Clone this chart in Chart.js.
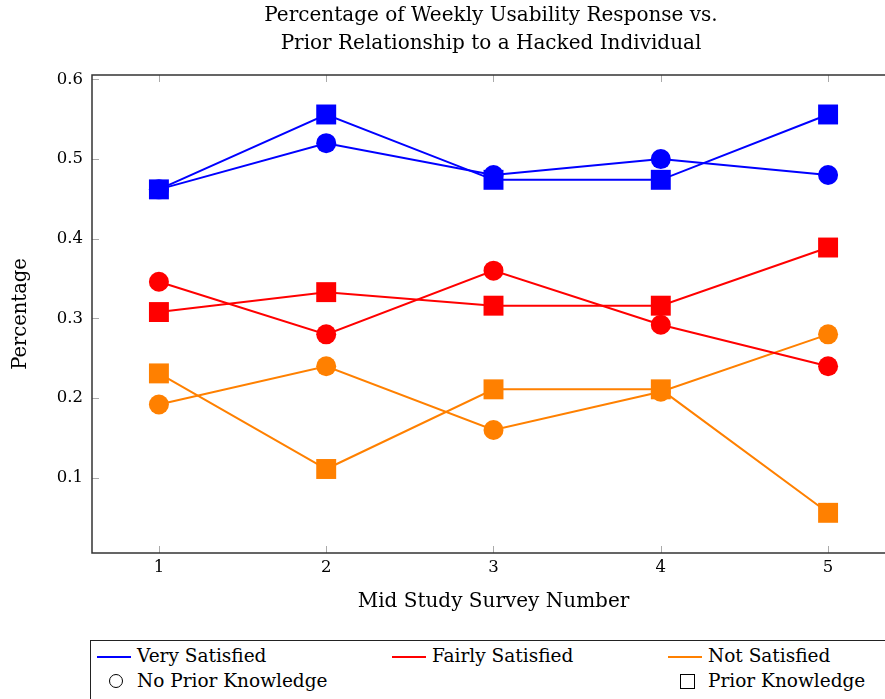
<!DOCTYPE html>
<html>
<head>
<meta charset="utf-8">
<script src="https://cdn.jsdelivr.net/npm/chart.js@4"></script>
<style>
  html, body { margin: 0; padding: 0; background: #fff; overflow: hidden; }
  #wrap { position: relative; width: 910px; height: 699px; }
  #chart { position: absolute; left: 0; top: 0; }
  #legend { position: absolute; left: 90px; top: 640px; width: 820px; height: 70px;
            border: 1px solid #222; box-sizing: border-box; font-family: "DejaVu Serif", serif; font-size: 18.5px; }
  .item { position: absolute; white-space: nowrap; line-height: 20px; }
  .line { position: absolute; width: 34px; height: 2px; }
  .circ { position: absolute; width: 12px; height: 12px; border: 1px solid #000; border-radius: 50%; }
  .sq { position: absolute; width: 13px; height: 13px; border: 1px solid #000; }
</style>
</head>
<body>
<div id="wrap">
  <canvas id="chart" width="910" height="640"></canvas>
  <div id="legend">
    <div class="line" style="left:6px;top:15px;background:#0000ff"></div>
    <div class="item" style="left:46px;top:5px">Very Satisfied</div>
    <div class="line" style="left:301px;top:15px;background:#ff0000"></div>
    <div class="item" style="left:341px;top:5px">Fairly Satisfied</div>
    <div class="line" style="left:577px;top:15px;background:#ff8000"></div>
    <div class="item" style="left:617px;top:5px">Not Satisfied</div>
    <div class="circ" style="left:18px;top:33px"></div>
    <div class="item" style="left:46px;top:30px">No Prior Knowledge</div>
    <div class="sq" style="left:589px;top:33px"></div>
    <div class="item" style="left:617px;top:30px">Prior Knowledge</div>
  </div>
</div>
<script>
const surveys = [1, 2, 3, 4, 5];
const yTicks = [0.1, 0.2, 0.3, 0.4, 0.5, 0.6];

const veryNoPrior   = [0.462, 0.520, 0.480, 0.500, 0.480];
const veryPrior     = [0.462, 0.556, 0.474, 0.474, 0.556];
const fairlyNoPrior = [0.346, 0.280, 0.360, 0.292, 0.240];
const fairlyPrior   = [0.308, 0.333, 0.316, 0.316, 0.389];
const notNoPrior    = [0.192, 0.240, 0.160, 0.208, 0.280];
const notPrior      = [0.231, 0.111, 0.211, 0.211, 0.056];

const FONT = '"DejaVu Serif", serif';

function pts(vals) {
  return vals.map(function (v, i) { return { x: surveys[i], y: v }; });
}

function series(label, vals, color, shape) {
  return {
    label: label,
    data: pts(vals),
    borderColor: color,
    backgroundColor: color,
    pointBackgroundColor: color,
    pointBorderColor: color,
    borderWidth: 2,
    pointStyle: shape,
    pointRadius: shape === 'rect' ? 14.1 : 10,
    pointBorderWidth: 0,
    tension: 0,
    fill: false
  };
}

// box, inner ticks and title (pgfplots look)
const decor = {
  id: 'decor',
  afterDraw: function (chart) {
    const ctx = chart.ctx;
    const a = chart.chartArea;
    const xs = chart.scales.x, ys = chart.scales.y;
    ctx.save();
    ctx.strokeStyle = '#aaa';
    ctx.lineWidth = 1;
    ctx.beginPath();
    surveys.forEach(function (s) {
      const px = Math.round(xs.getPixelForValue(s)) + 0.5;
      ctx.moveTo(px, a.bottom); ctx.lineTo(px, a.bottom - 7);
      ctx.moveTo(px, a.top); ctx.lineTo(px, a.top + 7);
    });
    yTicks.forEach(function (t) {
      const py = Math.round(ys.getPixelForValue(t)) + 0.5;
      ctx.moveTo(a.left, py); ctx.lineTo(a.left + 7, py);
      ctx.moveTo(a.right, py); ctx.lineTo(a.right - 7, py);
    });
    ctx.stroke();
    ctx.strokeStyle = '#333';
    ctx.lineWidth = 1.5;
    ctx.strokeRect(a.left, a.top, a.right - a.left, a.bottom - a.top);
    ctx.fillStyle = '#000';
    ctx.font = '20px ' + FONT;
    ctx.textAlign = 'center';
    ctx.textBaseline = 'middle';
    ctx.fillText('Percentage of Weekly Usability Response vs.', 491, 16);
    ctx.fillText('Prior Relationship to a Hacked Individual', 491, 44);
    ctx.restore();
  }
};

new Chart(document.getElementById('chart').getContext('2d'), {
  type: 'line',
  data: {
    datasets: [
      series('Very Satisfied', veryPrior, '#0000ff', 'rect'),
      series('Very Satisfied', veryNoPrior, '#0000ff', 'circle'),
      series('Fairly Satisfied', fairlyPrior, '#ff0000', 'rect'),
      series('Fairly Satisfied', fairlyNoPrior, '#ff0000', 'circle'),
      series('Not Satisfied', notPrior, '#ff8000', 'rect'),
      series('Not Satisfied', notNoPrior, '#ff8000', 'circle')
    ]
  },
  options: {
    responsive: false,
    animation: false,
    layout: { padding: { top: 75, right: 15, left: 0, bottom: 0 } },
    plugins: { legend: { display: false }, tooltip: { enabled: false } },
    scales: {
      x: {
        type: 'linear',
        min: 0.6,
        max: 5.4,
        afterBuildTicks: function (s) { s.ticks = surveys.map(function (v) { return { value: v }; }); },
        afterFit: function (s) { s.height = 87; },
        grid: { display: false, drawTicks: false },
        border: { display: false },
        ticks: { color: '#000', font: { family: FONT, size: 16.5 }, padding: 5 },
        title: { display: true, text: 'Mid Study Survey Number', color: '#000',
                 font: { family: FONT, size: 20 }, padding: { top: 0, bottom: 26 } }
      },
      y: {
        min: 0.00556,
        max: 0.60556,
        afterBuildTicks: function (s) { s.ticks = yTicks.map(function (v) { return { value: v }; }); },
        afterFit: function (s) { s.width = 92; },
        grid: { display: false, drawTicks: false },
        border: { display: false },
        ticks: { color: '#000', font: { family: FONT, size: 16.5 }, padding: 9,
                 callback: function (v) { return v.toFixed(1); } },
        title: { display: true, text: 'Percentage', color: '#000',
                 font: { family: FONT, size: 19.5 }, padding: { top: 9, bottom: 0 } }
      }
    }
  },
  plugins: [decor]
});
</script>
</body>
</html>
